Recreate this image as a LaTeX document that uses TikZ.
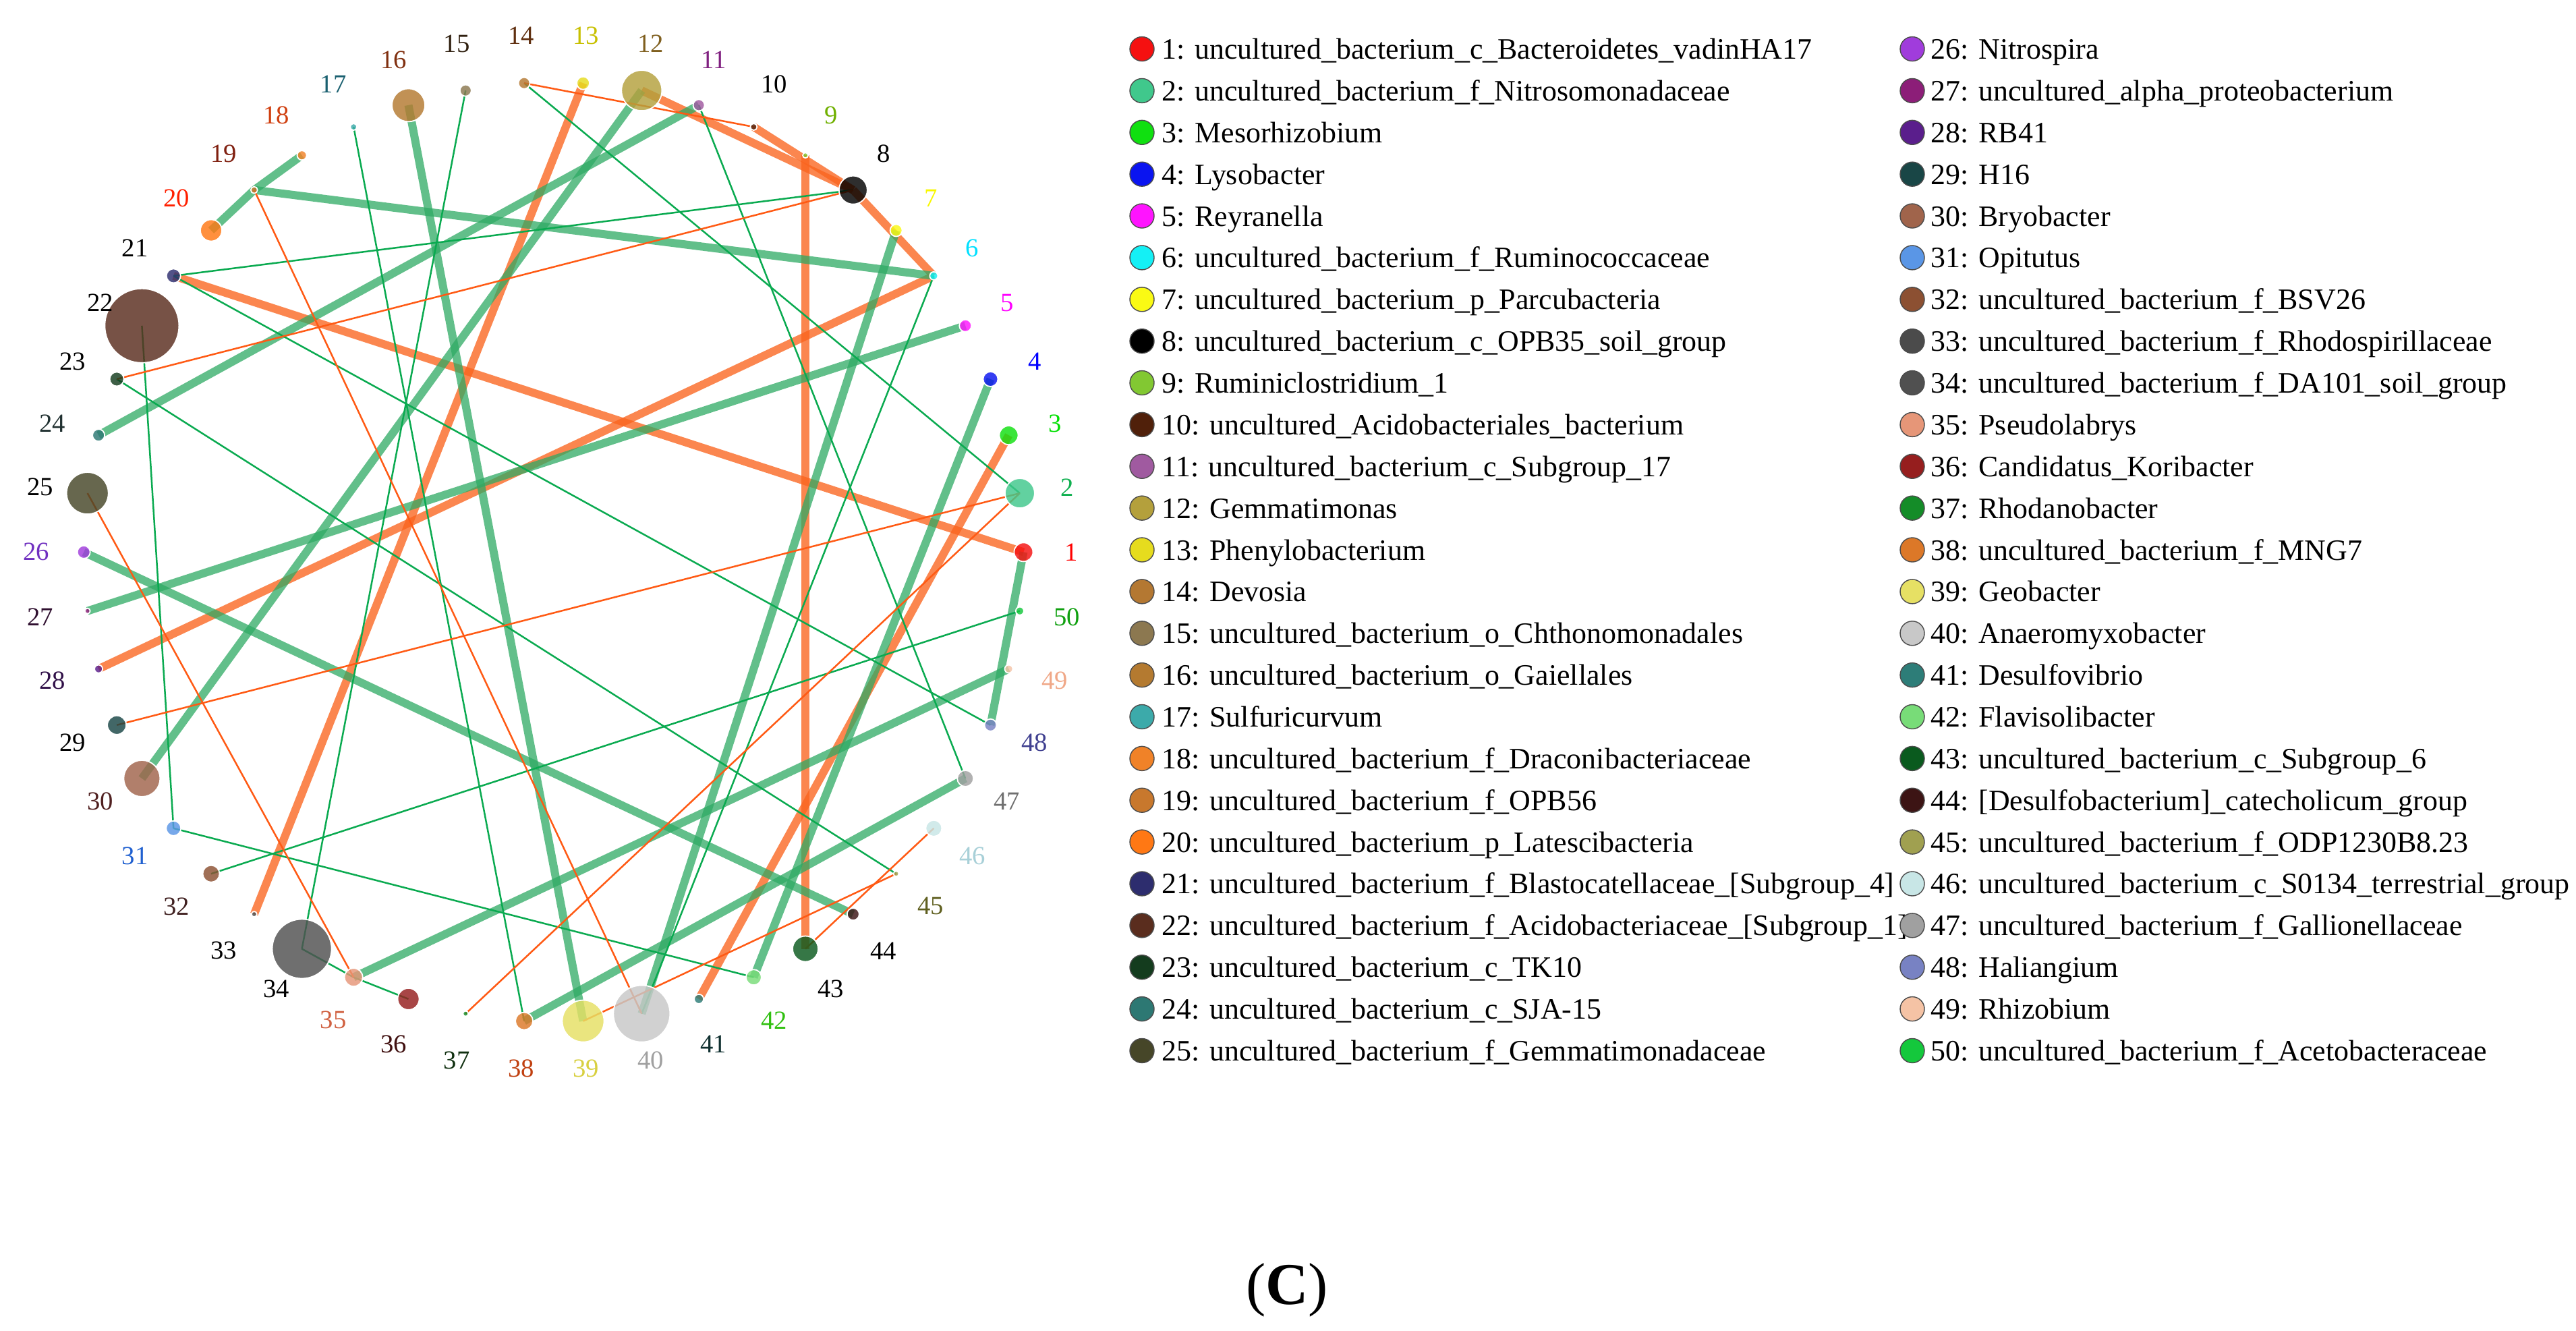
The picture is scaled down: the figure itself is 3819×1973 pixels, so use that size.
\documentclass[tikz,border=0pt]{standalone}
\usepackage{fontspec}
\setmainfont{Liberation Serif}
\usetikzlibrary{calc}
\pgfdeclarelayer{bg}
\pgfdeclarelayer{edges}
\pgfsetlayers{bg,edges,main}
% node fill colours
\definecolor{nc1}{HTML}{F51010}\definecolor{nc2}{HTML}{40C88C}\definecolor{nc3}{HTML}{10E010}
\definecolor{nc4}{HTML}{0A14F0}\definecolor{nc5}{HTML}{FF14FF}\definecolor{nc6}{HTML}{14F0F5}
\definecolor{nc7}{HTML}{FAFA14}\definecolor{nc8}{HTML}{000000}\definecolor{nc9}{HTML}{82C832}
\definecolor{nc10}{HTML}{50200A}\definecolor{nc11}{HTML}{A05AA0}\definecolor{nc12}{HTML}{B4A03C}
\definecolor{nc13}{HTML}{E6DC1E}\definecolor{nc14}{HTML}{B47832}\definecolor{nc15}{HTML}{8C7850}
\definecolor{nc16}{HTML}{B47A30}\definecolor{nc17}{HTML}{3CAAAA}\definecolor{nc18}{HTML}{F08228}
\definecolor{nc19}{HTML}{C8782D}\definecolor{nc20}{HTML}{FF7814}\definecolor{nc21}{HTML}{2D2D6E}
\definecolor{nc22}{HTML}{5A2D1E}\definecolor{nc23}{HTML}{143C1E}\definecolor{nc24}{HTML}{2D7873}
\definecolor{nc25}{HTML}{464628}\definecolor{nc26}{HTML}{A03CDC}\definecolor{nc27}{HTML}{8C1E78}
\definecolor{nc28}{HTML}{5A1E8C}\definecolor{nc29}{HTML}{194646}\definecolor{nc30}{HTML}{A0644B}
\definecolor{nc31}{HTML}{5A96E6}\definecolor{nc32}{HTML}{8C5032}\definecolor{nc33}{HTML}{4B4B4B}
\definecolor{nc34}{HTML}{505050}\definecolor{nc35}{HTML}{E69678}\definecolor{nc36}{HTML}{961E1E}
\definecolor{nc37}{HTML}{148C28}\definecolor{nc38}{HTML}{DC7828}\definecolor{nc39}{HTML}{E6E064}
\definecolor{nc40}{HTML}{C8C8C8}\definecolor{nc41}{HTML}{2D7D78}\definecolor{nc42}{HTML}{78DC78}
\definecolor{nc43}{HTML}{0A5A1E}\definecolor{nc44}{HTML}{3C1414}\definecolor{nc45}{HTML}{A0A050}
\definecolor{nc46}{HTML}{C8E6E6}\definecolor{nc47}{HTML}{A0A0A0}\definecolor{nc48}{HTML}{7882C3}
\definecolor{nc49}{HTML}{F5C3A5}\definecolor{nc50}{HTML}{14C83C}
% label colours
\definecolor{lc1}{HTML}{FF0000}\definecolor{lc2}{HTML}{10B050}\definecolor{lc3}{HTML}{00E000}
\definecolor{lc4}{HTML}{0000FF}\definecolor{lc5}{HTML}{FF00FF}\definecolor{lc6}{HTML}{00E0FF}
\definecolor{lc7}{HTML}{F8F800}\definecolor{lc8}{HTML}{000000}\definecolor{lc9}{HTML}{70B000}
\definecolor{lc10}{HTML}{000000}\definecolor{lc11}{HTML}{802080}\definecolor{lc12}{HTML}{806020}
\definecolor{lc13}{HTML}{C8C000}\definecolor{lc14}{HTML}{603010}\definecolor{lc15}{HTML}{302010}
\definecolor{lc16}{HTML}{803010}\definecolor{lc17}{HTML}{1A6070}\definecolor{lc18}{HTML}{D04010}
\definecolor{lc19}{HTML}{802010}\definecolor{lc20}{HTML}{FF2000}\definecolor{lc21}{HTML}{000000}
\definecolor{lc22}{HTML}{000000}\definecolor{lc23}{HTML}{000000}\definecolor{lc24}{HTML}{203030}
\definecolor{lc25}{HTML}{000000}\definecolor{lc26}{HTML}{7030C0}\definecolor{lc27}{HTML}{301030}
\definecolor{lc28}{HTML}{301048}\definecolor{lc29}{HTML}{000000}\definecolor{lc30}{HTML}{502020}
\definecolor{lc31}{HTML}{2060D0}\definecolor{lc32}{HTML}{402020}\definecolor{lc33}{HTML}{000000}
\definecolor{lc34}{HTML}{000000}\definecolor{lc35}{HTML}{D06040}\definecolor{lc36}{HTML}{401010}
\definecolor{lc37}{HTML}{103010}\definecolor{lc38}{HTML}{C04010}\definecolor{lc39}{HTML}{D8D040}
\definecolor{lc40}{HTML}{A0A0A0}\definecolor{lc41}{HTML}{103030}\definecolor{lc42}{HTML}{30C010}
\definecolor{lc43}{HTML}{000000}\definecolor{lc44}{HTML}{000000}\definecolor{lc45}{HTML}{606020}
\definecolor{lc46}{HTML}{A8D0D8}\definecolor{lc47}{HTML}{707070}\definecolor{lc48}{HTML}{404090}
\definecolor{lc49}{HTML}{F0A888}\definecolor{lc50}{HTML}{10A010}
% edge colours
\definecolor{cTG}{RGB}{46,170,100}
\definecolor{cTO}{RGB}{250,100,30}
\definecolor{cNG}{RGB}{10,170,80}
\definecolor{cNO}{RGB}{255,90,20}
\begin{document}
\begin{tikzpicture}[x=0.1mm,y=0.1mm,
  bubble/.style={circle, inner sep=0pt, draw=white, line width=0.5pt, fill opacity=0.82},
  lab/.style={font=\fontsize{11pt}{13pt}\selectfont, inner sep=0pt},
  legdot/.style={circle, inner sep=0pt, minimum size=3.6mm, draw=black!70, line width=0.4pt},
  legtxt/.style={font=\fontsize{12.5pt}{15pt}\selectfont, inner sep=0pt, anchor=base west},
  etg/.style={draw=cTG, line width=1.2mm, draw opacity=0.75},
  eto/.style={draw=cTO, line width=1.2mm, draw opacity=0.78},
  eng/.style={draw=cNG, line width=0.25mm},
  eno/.style={draw=cNO, line width=0.25mm}]
\begin{pgfonlayer}{bg}
\fill[white] (0,0) rectangle (3819,1973);
\end{pgfonlayer}
\useasboundingbox (0,0) rectangle (3819,1973);
\coordinate (C) at (820.8,1154.6);
% circle nodes and their labels
\foreach \k/\r in {1/14,2/22,3/14,4/11,5/9,6/6,7/9,8/21,9/4,10/5,11/8.5,12/30,13/9.5,14/8.5,
  15/8.5,16/24.5,17/5,18/7,19/5,20/16,21/10.5,22/55,23/10.5,24/9,25/31,26/9.5,27/4,28/6,
  29/14,30/27,31/11,32/12.5,33/4,34/44,35/13.5,36/16,37/4,38/13,39/31,40/42,41/7,42/11.5,
  43/19,44/9,45/4,46/12,47/12,48/9,49/6,50/6}{
  \node[bubble, minimum size=\r*0.2mm, fill=nc\k] (n\k) at ($(C)+({(\k-1)*7.2}:696.6)$) {};
  \node[lab, text=lc\k] (l\k) at ($(C)+({(\k-1)*7.2}:767)$) {\k};
}
% connectors
\begin{pgfonlayer}{edges}
\foreach \a/\b in {12/8,10/8,8/6,6/28,21/1,13/33,9/43,3/41}
  \draw[eto] (n\a.center) -- (n\b.center);
\foreach \a/\b in {18/19,19/20,19/6,24/11,12/30,16/39,7/40,4/42,5/27,26/44,1/48,49/35,47/38}
  \draw[etg] (n\a.center) -- (n\b.center);
\foreach \a/\b in {21/8,21/48,22/31,23/45,17/38,15/34,14/2,11/47,6/40,50/32,31/42,34/35,35/36}
  \draw[eng] (n\a.center) -- (n\b.center);
\foreach \a/\b in {14/10,23/8,25/35,19/40,2/29,2/37,39/45,43/46}
  \draw[eno] (n\a.center) -- (n\b.center);
\end{pgfonlayer}
% legend, column 1
\foreach \k/\t in {1/uncultured\_bacterium\_c\_Bacteroidetes\_vadinHA17,
  2/uncultured\_bacterium\_f\_Nitrosomonadaceae,
  3/Mesorhizobium,
  4/Lysobacter,
  5/Reyranella,
  6/uncultured\_bacterium\_f\_Ruminococcaceae,
  7/uncultured\_bacterium\_p\_Parcubacteria,
  8/uncultured\_bacterium\_c\_OPB35\_soil\_group,
  9/Ruminiclostridium\_1,
  10/uncultured\_Acidobacteriales\_bacterium,
  11/uncultured\_bacterium\_c\_Subgroup\_17,
  12/Gemmatimonas,
  13/Phenylobacterium,
  14/Devosia,
  15/uncultured\_bacterium\_o\_Chthonomonadales,
  16/uncultured\_bacterium\_o\_Gaiellales,
  17/Sulfuricurvum,
  18/uncultured\_bacterium\_f\_Draconibacteriaceae,
  19/uncultured\_bacterium\_f\_OPB56,
  20/uncultured\_bacterium\_p\_Latescibacteria,
  21/{uncultured\_bacterium\_f\_Blastocatellaceae\_[Subgroup\_4]},
  22/{uncultured\_bacterium\_f\_Acidobacteriaceae\_[Subgroup\_1]},
  23/uncultured\_bacterium\_c\_TK10,
  24/uncultured\_bacterium\_c\_SJA-15,
  25/uncultured\_bacterium\_f\_Gemmatimonadaceae}{
  \pgfmathsetmacro\yy{1900.4-(\k-1)*61.87}
  \node[legdot, fill=nc\k] (d\k) at (1693,\yy) {};
  \node[legtxt] (t\k) at (1722,\yy-15) {\k: \t};
}
% legend, column 2
\foreach \k/\t in {26/Nitrospira,
  27/uncultured\_alpha\_proteobacterium,
  28/RB41,
  29/H16,
  30/Bryobacter,
  31/Opitutus,
  32/uncultured\_bacterium\_f\_BSV26,
  33/uncultured\_bacterium\_f\_Rhodospirillaceae,
  34/uncultured\_bacterium\_f\_DA101\_soil\_group,
  35/Pseudolabrys,
  36/Candidatus\_Koribacter,
  37/Rhodanobacter,
  38/uncultured\_bacterium\_f\_MNG7,
  39/Geobacter,
  40/Anaeromyxobacter,
  41/Desulfovibrio,
  42/Flavisolibacter,
  43/uncultured\_bacterium\_c\_Subgroup\_6,
  44/{[Desulfobacterium]\_catecholicum\_group},
  45/uncultured\_bacterium\_f\_ODP1230B8.23,
  46/uncultured\_bacterium\_c\_S0134\_terrestrial\_group,
  47/uncultured\_bacterium\_f\_Gallionellaceae,
  48/Haliangium,
  49/Rhizobium,
  50/uncultured\_bacterium\_f\_Acetobacteraceae}{
  \pgfmathsetmacro\yy{1900.4-(\k-26)*61.87}
  \node[legdot, fill=nc\k] (d\k) at (2835,\yy) {};
  \node[legtxt] (t\k) at (2862,\yy-15) {\k: \t};
}
% caption
\node[font=\fontsize{25pt}{30pt}\selectfont, inner sep=0pt] (cap) at (1908,61) {(\textbf{C})};
\end{tikzpicture}
\end{document}
